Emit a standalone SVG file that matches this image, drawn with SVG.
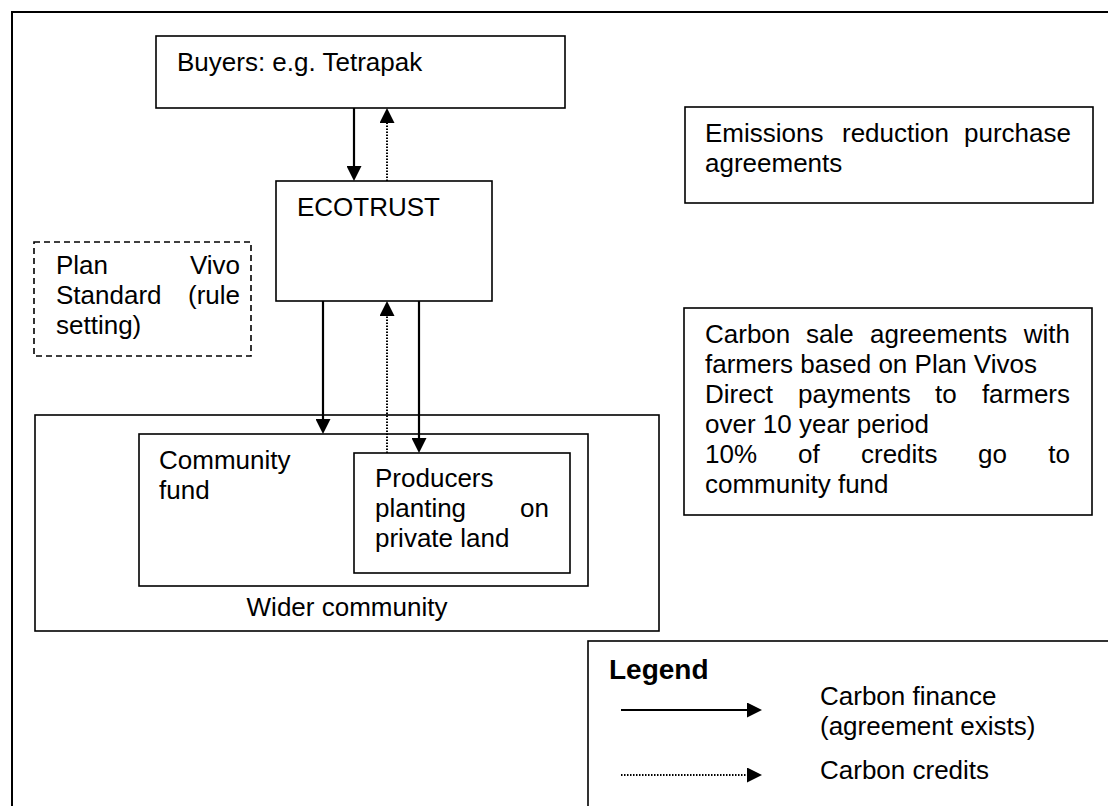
<svg xmlns="http://www.w3.org/2000/svg" width="1108" height="806" viewBox="0 0 1108 806">
<style>
text{font-family:"Liberation Sans",Arial,sans-serif;font-size:26px;fill:#000}
.box{fill:none;stroke:#000;stroke-width:1.6}
.dash{fill:none;stroke:#000;stroke-width:1.6;stroke-dasharray:6,4}
.solid{stroke:#000;stroke-width:2.2;fill:none}
.dot{stroke:#000;stroke-width:2;fill:none;stroke-dasharray:1.5,1.5}
.bold{font-weight:bold}
</style>
<defs>
<marker id="ah" markerUnits="userSpaceOnUse" viewBox="0 0 15 15" refX="7" refY="7.5" markerWidth="15" markerHeight="15" orient="auto">
<path d="M0,0 L15,7.5 L0,15 z" fill="#000"/>
</marker>
</defs>
<rect fill="#fff" x="0" y="0" width="1108" height="806"/>
<g id="frame"><path class="box" d="M12,820 L12,12 L1120,12" style="stroke-width:2"/></g>
<g id="buyers"><rect class="box" x="156" y="36" width="409" height="72"/><text x="177" y="71">Buyers: e.g. Tetrapak</text></g>
<g id="ecotrust"><rect class="box" x="276" y="181" width="216" height="120"/><text x="297" y="216">ECOTRUST</text></g>
<g id="planvivo"><rect class="dash" x="34" y="242" width="217" height="114"/>
<text x="56" y="274">Plan</text><text x="240" y="274" text-anchor="end">Vivo</text>
<text x="56" y="304">Standard</text><text x="240" y="304" text-anchor="end">(rule</text>
<text x="56" y="334">setting)</text></g>
<g id="emissions"><rect class="box" x="685" y="107" width="408" height="96"/>
<text x="705" y="142">Emissions</text><text x="842" y="142">reduction</text><text x="1071" y="142" text-anchor="end">purchase</text>
<text x="705" y="172">agreements</text></g>
<g id="carbonsale"><rect class="box" x="684" y="308" width="408" height="207"/>
<text x="705" y="343">Carbon</text><text x="806" y="343">sale</text><text x="870" y="343">agreements</text><text x="1070" y="343" text-anchor="end">with</text>
<text x="705" y="373">farmers based on Plan Vivos</text>
<text x="705" y="403">Direct</text><text x="798" y="403">payments</text><text x="935" y="403">to</text><text x="1070" y="403" text-anchor="end">farmers</text>
<text x="705" y="433">over 10 year period</text>
<text x="705" y="463">10%</text><text x="798" y="463">of</text><text x="861" y="463">credits</text><text x="978" y="463">go</text><text x="1070" y="463" text-anchor="end">to</text>
<text x="705" y="493">community fund</text></g>
<g id="widercommunity"><rect class="box" x="35" y="415" width="624" height="216"/><text x="347" y="616" text-anchor="middle">Wider community</text></g>
<g id="communityfund"><rect class="box" x="139" y="434" width="449" height="152"/><text x="159" y="469">Community</text><text x="159" y="499">fund</text></g>
<g id="producers"><rect class="box" x="354" y="453" width="216" height="120"/>
<text x="375" y="487">Producers</text>
<text x="375" y="517">planting</text><text x="549" y="517" text-anchor="end">on</text>
<text x="375" y="547">private land</text></g>
<g id="connectors">
<line class="solid" x1="354" y1="108" x2="354" y2="173" marker-end="url(#ah)"/>
<line class="dot" x1="387" y1="181" x2="387" y2="116" marker-end="url(#ah)"/>
<line class="solid" x1="323" y1="301" x2="323" y2="426" marker-end="url(#ah)"/>
<line class="dot" x1="387" y1="453" x2="387" y2="309" marker-end="url(#ah)"/>
<line class="solid" x1="419" y1="301" x2="419" y2="445" marker-end="url(#ah)"/>
</g>
<g id="legend"><rect class="box" x="588" y="641" width="600" height="300"/>
<text class="bold" x="609" y="679" style="font-size:28px">Legend</text>
<line class="solid" x1="621" y1="710" x2="754" y2="710" marker-end="url(#ah)"/>
<line class="dot" x1="621" y1="775" x2="754" y2="775" marker-end="url(#ah)"/>
<text x="820" y="705">Carbon finance</text>
<text x="820" y="735">(agreement exists)</text>
<text x="820" y="779">Carbon credits</text></g>
</svg>
